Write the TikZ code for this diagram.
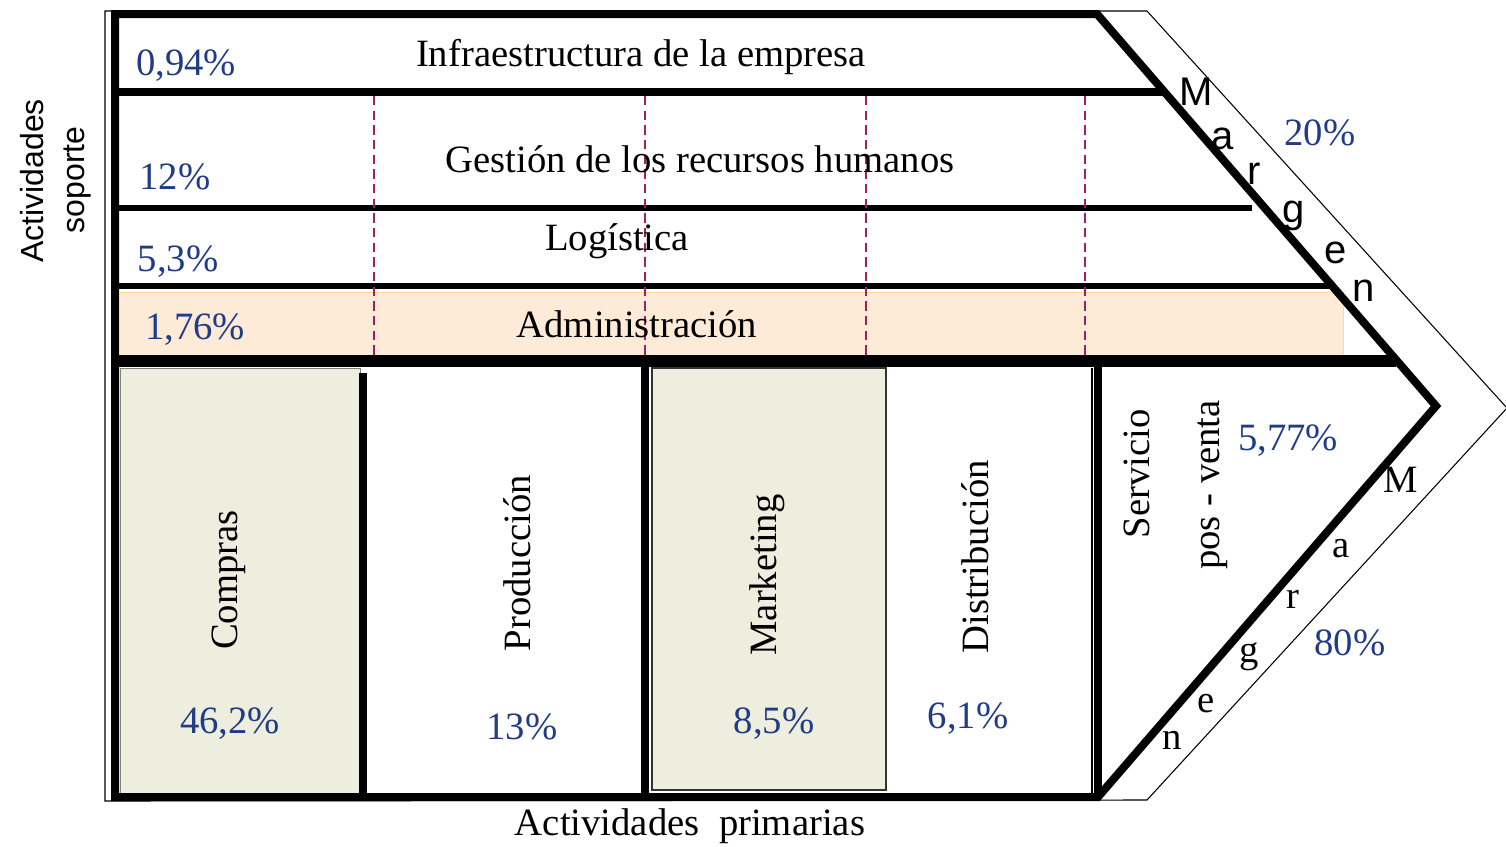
\documentclass[tikz,border=0pt]{standalone}
\usepackage{fontspec}
\setmainfont{Liberation Serif}
\newfontfamily\sansf{Liberation Sans}
\definecolor{pctblue}{RGB}{32,60,135}
\definecolor{peach}{RGB}{253,235,216}
\definecolor{peachedge}{RGB}{255,215,150}
\definecolor{olivefill}{RGB}{237,238,222}
\definecolor{dashcol}{RGB}{165,30,95}
\begin{document}
\begin{tikzpicture}[x=0.75pt,y=-0.75pt,
  every node/.style={inner sep=0pt,outer sep=0pt,font=\fontsize{29}{34}\selectfont},
  lbl/.style={anchor=base},
  pct/.style={anchor=base,text=pctblue},
  vlbl/.style={rotate=90,anchor=center},
  topletter/.style={font=\sansf\fontsize{30}{34}\selectfont},
  botletter/.style={},
  heavy/.style={line width=6pt},
  medium/.style={line width=4.8pt},
  thin/.style={line width=0.8pt},
  dashv/.style={dashcol,line width=1pt,dash pattern=on 7pt off 4pt},
  line join=miter]
\useasboundingbox (0,0) rectangle (1506,846);
% fills
\fill[peach] (120,292) rectangle (1343,355);
\draw[peachedge,line width=0.6pt] (120,292) -- (1343,292) -- (1343,355);
\filldraw[fill=olivefill,draw=gray,line width=0.6pt] (120,368) rectangle (360,793);
\filldraw[fill=olivefill,draw=black!80,line width=0.8pt] (652,368) rectangle (886,790);
% outer thin margin contour
\coordinate (oTL) at (105,11);
\coordinate (oTR) at (1147,11);
\coordinate (oTip) at (1507,408);
\coordinate (oBR) at (1147,800);
\coordinate (oBL) at (105,801);
\draw[thin] (oTL) -- (oTR) -- (oTip) -- (oBR) -- (oBL) -- cycle;
% main thick contour
\coordinate (TL) at (115,14);
\coordinate (TR) at (1097,14);
\coordinate (Tip) at (1436,406);
\coordinate (BR) at (1098,797);
\coordinate (BL) at (115,797);
\draw[heavy] (TL) -- (TR) -- (Tip) -- (BR) -- (BL) -- cycle;
% support rows
\coordinate (r1a) at (115,92);  \coordinate (r1b) at (1163,92);
\coordinate (r2a) at (115,208); \coordinate (r2b) at (1252,208);
\coordinate (r3a) at (115,286); \coordinate (r3b) at (1329,286);
\coordinate (r4a) at (115,361); \coordinate (r4b) at (1396,361);
\draw[heavy] (r1a) -- (r1b);
\draw[medium] (r2a) -- (r2b);
\draw[medium] (r3a) -- (r3b);
\draw[line width=8.5pt] (r4a) -- (r4b);
% dashed verticals
\foreach \x/\n in {374/a,645/b,866/c,1085/d}{
  \coordinate (dt\n) at (\x,96); \coordinate (db\n) at (\x,356);
  \draw[dashv] (dt\n) -- (db\n);}
% primary separators
\coordinate (v1t) at (363,373); \coordinate (v1b) at (363,797);
\coordinate (v2t) at (645,365); \coordinate (v2b) at (645,797);
\coordinate (v3t) at (1092,368); \coordinate (v3b) at (1092,797);
\coordinate (v4t) at (1098,361); \coordinate (v4b) at (1098,797);
\draw[heavy] (v1t) -- (v1b);
\draw[heavy] (v2t) -- (v2b);
\draw[thin] (v3t) -- (v3b);
\draw[heavy] (v4t) -- (v4b);
% support labels
\node[lbl] (infra) at (641,66) {Infraestructura de la empresa};
\node[pct] (p094) at (186,75) {0,94\%};
\node[lbl] (rrhh) at (700,172) {Gestión de los recursos humanos};
\node[pct] (p12) at (175,189) {12\%};
\node[lbl] (logi) at (617,250) {Logística};
\node[pct] (p53) at (178,271) {5,3\%};
\node[lbl] (admin) at (637,337) {Administración};
\node[pct] (p176) at (195,339) {1,76\%};
% primary labels
\node[vlbl] (compras) at (229,580) {Compras};
\node[pct] (p462) at (230,733) {46,2\%};
\node[vlbl] (prod) at (517,563) {Producción};
\node[pct] (p13) at (522,739) {13\%};
\node[vlbl] (mkt) at (767,575) {Marketing};
\node[pct] (p85) at (774,733) {8,5\%};
\node[vlbl] (dist) at (975,557) {Distribución};
\node[pct] (p61) at (968,728) {6,1\%};
\node[vlbl] (serv) at (1137,474) {Servicio};
\node[vlbl] (pos) at (1213,485) {pos - venta};
\node[pct] (p577) at (1288,450) {5,77\%};
\node[pct] (p20) at (1320,145) {20\%};
\node[pct] (p80) at (1350,655) {80\%};
\node[lbl] (prim) at (690,835) {Actividades\ \ primarias};
\node[vlbl,font=\sansf\fontsize{24}{28}\selectfont] (act) at (32,181) {Actividades};
\node[vlbl,font=\sansf\fontsize{24}{28}\selectfont] (sop) at (77,180) {soporte};
% Margen (top)
\node[topletter] (tM) at (1196,92) {M};
\node[topletter] (ta) at (1223,139) {a};
\node[topletter] (tr) at (1254,174) {r};
\node[topletter] (tg) at (1294,216) {g};
\node[topletter] (te) at (1336,253) {e};
\node[topletter] (tn) at (1364,291) {n};
% Margen (bottom)
\node[botletter] (bM) at (1401,480) {M};
\node[botletter] (ba) at (1341,549) {a};
\node[botletter] (br) at (1293,599) {r};
\node[botletter] (bg) at (1249,657) {g};
\node[botletter] (be) at (1206,704) {e};
\node[botletter] (bn) at (1172,740) {n};
\end{tikzpicture}
\end{document}
